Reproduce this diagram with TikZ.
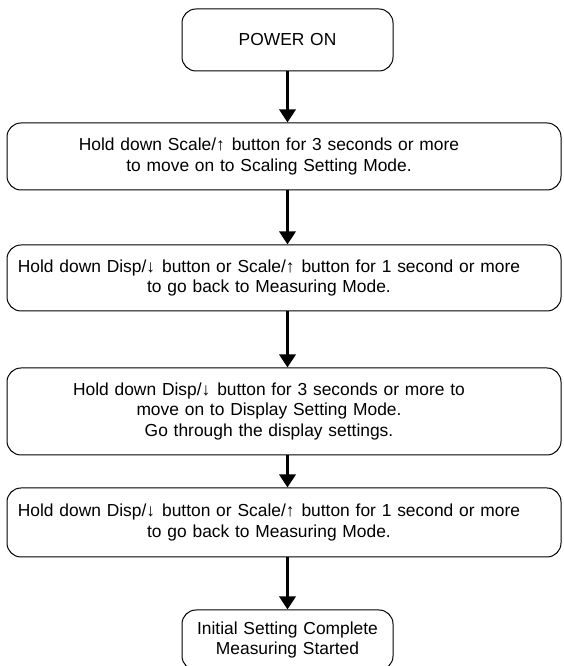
\documentclass[tikz,border=0pt]{standalone}
\usepackage{fontspec}
\setmainfont{Liberation Sans}
\usepackage{tikz}
\usetikzlibrary{shapes,arrows.meta,positioning}

\newcommand{\upk}{↑\hspace{0.4em}}
\newcommand{\dnk}{↓\hspace{0.4em}}

\tikzset{
  flowbox/.style={draw, line width=1pt, rounded corners=14pt, align=center,
    font=\fontsize{17.4}{20.5}\selectfont, inner xsep=0pt, inner ysep=0pt},
  stepbox/.style={flowbox, text width=554pt,
    execute at begin node={\leftskip=0pt plus 1fil\rightskip=30pt plus 1fil\parfillskip=0pt\relax}},
  endbox/.style={flowbox, text width=211pt},
  arr/.style={line width=3.5pt, -{Triangle[width=16pt,length=13pt]}}
}

\begin{document}
\begin{tikzpicture}[x=1pt,y=1pt]
    \useasboundingbox (0,0) rectangle (563,666);
    \clip (0,0) rectangle (563,666);
    \node[endbox, minimum height=62pt] (pwr) at (287.5,626) {POWER ON};
    \node[stepbox, minimum height=67pt] (scal) at (284,509.5)
      {Hold down Scale/\upk button for 3 seconds or more\\to move on to Scaling Setting Mode.};
    \node[stepbox, minimum height=66pt] (meas1) at (284,388)
      {Hold down Disp/\dnk button or Scale/\upk button for 1 second or more\\to go back to Measuring Mode.};
    \node[stepbox, minimum height=87pt] (disp) at (284,254.5)
      {Hold down Disp/\dnk button for 3 seconds or more to\\move on to Display Setting Mode.\\Go through the display settings.};
    \node[stepbox, minimum height=69pt] (meas2) at (284,143.5)
      {Hold down Disp/\dnk button or Scale/\upk button for 1 second or more\\to go back to Measuring Mode.};
    \node[endbox, minimum height=60pt] (done) at (287.5,26)
      {Initial Setting Complete\\Measuring Started};
    \draw[arr] (pwr.south) -- (pwr |- scal.north);
    \draw[arr] (pwr |- scal.south) -- (pwr |- meas1.north);
    \draw[arr] (pwr |- meas1.south) -- (pwr |- disp.north);
    \draw[arr] (pwr |- disp.south) -- (pwr |- meas2.north);
    \draw[arr] (pwr |- meas2.south) -- (done.north);
  \end{tikzpicture}
\end{document}
